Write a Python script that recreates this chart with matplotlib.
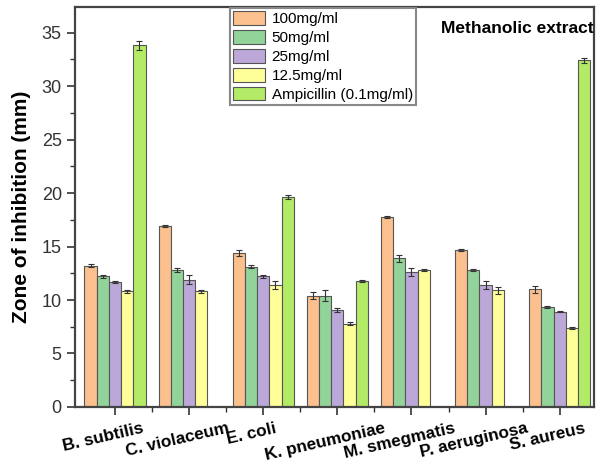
import numpy as np
import matplotlib
matplotlib.use('Agg')
import matplotlib.pyplot as plt
import matplotlib.transforms as mtransforms
from matplotlib.ticker import MultipleLocator

plt.rcParams['font.family'] = ['Liberation Sans', 'DejaVu Sans']

species = ['B. subtilis', 'C. violaceum', 'E. coli', 'K. pneumoniae',
           'M. smegmatis', 'P. aeruginosa', 'S. aureus']
labels = ['100mg/ml', '50mg/ml', '25mg/ml', '12.5mg/ml', 'Ampicillin (0.1mg/ml)']

# zone of inhibition (mm); nan = not tested
c100 = [13.2, 16.9, 14.4, 10.4, 17.8, 14.7, 11.0]
c50 = [12.2, 12.8, 13.1, 10.4, 13.9, 12.8, 9.35]
c25 = [11.7, 11.9, 12.2, 9.1, 12.6, 11.4, 8.9]
c12 = [10.8, 10.8, 11.4, 7.8, 12.8, 10.9, 7.4]
amp = [33.8, np.nan, 19.6, 11.8, np.nan, np.nan, 32.4]

e100 = [0.15, 0.1, 0.3, 0.35, 0.1, 0.1, 0.3]
e50 = [0.1, 0.15, 0.15, 0.5, 0.3, 0.1, 0.1]
e25 = [0.1, 0.4, 0.15, 0.2, 0.4, 0.35, 0.05]
e12 = [0.15, 0.1, 0.35, 0.1, 0.1, 0.3, 0.1]
eamp = [0.4, 0.0, 0.2, 0.1, 0.0, 0.0, 0.2]

colors = ['#FBC08E', '#92D39A', '#BCA8D8', '#FFFF99', '#B4EB66']

fig = plt.figure(figsize=(5.97, 4.63), dpi=100)
ax = fig.add_axes([0.1256, 0.121, 0.869, 0.864])

x = np.arange(len(species))
w = 0.165
series = [c100, c50, c25, c12, amp]
errs = [e100, e50, e25, e12, eamp]
for i, (vals, err, col, lab) in enumerate(zip(series, errs, colors, labels)):
    ax.bar(x + (i - 2) * w, vals, w, color=col, edgecolor='#555555', linewidth=0.8,
           label=lab, yerr=err, capsize=2.5,
           error_kw=dict(ecolor='#333333', elinewidth=0.8, capthick=0.8))

ax.set_xlim(-0.54, 6.46)
ax.set_ylim(0, 37.4)
ax.yaxis.set_major_locator(MultipleLocator(5))
ax.yaxis.set_minor_locator(MultipleLocator(2.5))
ax.set_xticks(x)
ax.set_xticks(x[:-1] + 0.5, minor=True)
ax.tick_params(axis='both', which='major', direction='out', length=6, width=1.2,
               color='#333333', labelsize=13, labelcolor='#333333')
ax.tick_params(axis='x', which='major', labelsize=12.5, pad=4, labelcolor='black')
ax.tick_params(axis='both', which='minor', direction='out', length=3.5, width=1.0,
               color='#333333')
ax.set_xticklabels(species, rotation=13, ha='center', fontweight='bold', fontsize=12.3)
# shift the tilted names a little to the left of their ticks
offset = mtransforms.ScaledTranslation(-12 / 100, 0, fig.dpi_scale_trans)
for t in ax.get_xticklabels():
    t.set_transform(t.get_transform() + offset)
for s in ax.spines.values():
    s.set_linewidth(1.6)
    s.set_color('#444444')

ax.set_ylabel('Zone of inhibition (mm)', fontweight='bold', fontsize=15, labelpad=8)

leg = ax.legend(loc='upper left', bbox_to_anchor=(0.298, 0.997), fontsize=11,
                handlelength=2.1, handleheight=1.0, handletextpad=0.45,
                labelspacing=0.25, borderpad=0.2, borderaxespad=0.0,
                fancybox=False, framealpha=1)
leg.get_frame().set_edgecolor('#888888')
leg.get_frame().set_linewidth(1.5)

ax.text(1.0, 0.965, 'Methanolic extract', transform=ax.transAxes, ha='right',
        va='top', fontsize=12.5, fontweight='bold')

fig.savefig('out.png', dpi=100)
